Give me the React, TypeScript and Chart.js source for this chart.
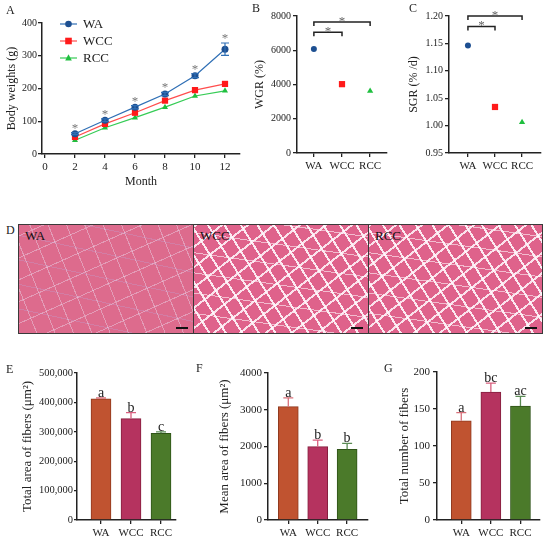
import React, { useEffect, useRef } from "react";
import { Chart, registerables } from "chart.js";

Chart.register(...registerables);

const FONT = "'Liberation Serif', 'Times New Roman', serif";
const INK = "#222";

// A - body weight by month
const months = [2, 4, 6, 8, 10, 12];
const monthTicks = [0, 2, 4, 6, 8, 10, 12];
const weightTicks = [0, 100, 200, 300, 400];
const waWeight = [62, 103, 143, 183, 239, 320];
const waWeightErr = [3, 4, 5, 5, 6, 19];
const wccWeight = [52, 92, 126, 163, 195, 214];
const rccWeight = [42, 80, 111, 143, 177, 193];

const groups = ["WA", "WCC", "RCC"];

// B / C - growth rates
const wgr = [6080, 4020, 3620];
const wgrTicks = [0, 2000, 4000, 6000, 8000];
const wgrBrackets: [number, number, number][] = [[0, 1, 7050], [0, 2, 7650]];
const sgr = [1.146, 1.034, 1.006];
const sgrTicks = [0.95, 1.0, 1.05, 1.1, 1.15, 1.2];
const sgrBrackets: [number, number, number][] = [[0, 1, 1.181], [0, 2, 1.2]];

// E / F / G - fibre measurements
const totalArea = [412000, 345000, 295000];
const totalAreaErr = [3000, 20000, 5000];
const totalAreaTicks = [0, 100000, 200000, 300000, 400000, 500000];
const totalAreaLetters = ["a", "b", "c"];
const meanArea = [3083, 1995, 1924];
const meanAreaErr = [240, 180, 160];
const meanAreaTicks = [0, 1000, 2000, 3000, 4000];
const meanAreaLetters = ["a", "b", "b"];
const fiberCount = [134, 173, 154];
const fiberCountErr = [11, 12, 13];
const fiberCountTicks = [0, 50, 100, 150, 200];
const fiberCountLetters = ["a", "bc", "ac"];

const lineColors = ["#2f6fb5", "#ff4d4d", "#35cc55"];
const markerColors = ["#1d4f91", "#ff1a1a", "#1fbf3f"];
const markerStyles = ["circle", "rect", "triangle"];
const barColors = ["#c05330", "#b5335f", "#4b7a2a"];
const barBorders = ["#8f3a1f", "#85203f", "#2f5418"];
const errColors = ["#d9707a", "#d9607f", "#5b8c55"];

const axisLine = (tickLength = 4) => ({
  grid: { display: true, drawOnChartArea: false, drawTicks: true, tickLength, color: INK, lineWidth: 1.3, offset: false },
  border: { display: true, color: INK, width: 1.5 },
});

type YOpts = { width: number; title: string; size: number; pad: number; tickSize: number; tickPad: number; tickLen?: number; fmt?: (v: number) => string };

const yAxis = (ticks: number[], o: YOpts) => ({
  type: "linear",
  min: ticks[0],
  max: ticks[ticks.length - 1],
  afterBuildTicks: (s: any) => {
    s.ticks = ticks.map((v) => ({ value: v }));
  },
  ticks: {
    font: { family: FONT, size: o.tickSize },
    color: INK,
    padding: o.tickPad,
    autoSkip: false,
    callback: (v: any) => (o.fmt ? o.fmt(v) : String(v)),
  },
  ...axisLine(o.tickLen ?? 4),
  title: { display: true, text: o.title, font: { family: FONT, size: o.size }, color: INK, padding: { top: o.pad, bottom: 0 } },
  afterFit: (s: any) => {
    s.width = o.width;
  },
});

const xGroups = (min: number, max: number, height: number) => ({
  type: "linear",
  min,
  max,
  offset: false,
  afterBuildTicks: (s: any) => {
    s.ticks = groups.map((_, i) => ({ value: i }));
  },
  ticks: {
    font: { family: FONT, size: 11 },
    color: INK,
    padding: 3,
    autoSkip: false,
    maxRotation: 0,
    callback: (v: any) => groups[v] ?? "",
  },
  ...axisLine(4),
  afterFit: (s: any) => {
    s.height = height;
  },
});

function marker(ctx: CanvasRenderingContext2D, style: string, x: number, y: number, r: number) {
  ctx.beginPath();
  if (style === "circle") ctx.arc(x, y, r, 0, Math.PI * 2);
  else if (style === "rect") ctx.rect(x - r, y - r, r * 2, r * 2);
  else {
    ctx.moveTo(x, y - r * 1.1);
    ctx.lineTo(x + r, y + r * 0.75);
    ctx.lineTo(x - r, y + r * 0.75);
    ctx.closePath();
  }
  ctx.fill();
}

const weightExtras = {
  id: "weightExtras",
  afterDatasetsDraw(chart: any) {
    const { ctx, scales } = chart;
    const { x, y } = scales;
    ctx.save();
    // error bars on WA
    ctx.strokeStyle = lineColors[0];
    ctx.lineWidth = 1.2;
    months.forEach((m, i) => {
      const px = x.getPixelForValue(m);
      const hi = y.getPixelForValue(waWeight[i] + waWeightErr[i]);
      const lo = y.getPixelForValue(waWeight[i] - waWeightErr[i]);
      ctx.beginPath();
      ctx.moveTo(px, hi);
      ctx.lineTo(px, lo);
      ctx.moveTo(px - 4, hi);
      ctx.lineTo(px + 4, hi);
      ctx.moveTo(px - 4, lo);
      ctx.lineTo(px + 4, lo);
      ctx.stroke();
    });
    // significance stars
    ctx.fillStyle = "#777";
    ctx.font = `13px ${FONT}`;
    ctx.textAlign = "center";
    ctx.textBaseline = "alphabetic";
    months.forEach((m, i) => {
      const px = x.getPixelForValue(m);
      const hi = y.getPixelForValue(waWeight[i] + waWeightErr[i]);
      ctx.fillText("*", px, hi - 1);
    });
    // legend
    const rows = [24, 41, 58];
    groups.forEach((g, i) => {
      const yy = rows[i];
      ctx.strokeStyle = lineColors[i];
      ctx.lineWidth = 1.2;
      ctx.beginPath();
      ctx.moveTo(60, yy);
      ctx.lineTo(77, yy);
      ctx.stroke();
      ctx.fillStyle = markerColors[i];
      marker(ctx, markerStyles[i], 68.5, yy, 3.3);
      ctx.fillStyle = INK;
      ctx.font = `13px ${FONT}`;
      ctx.textAlign = "left";
      ctx.textBaseline = "middle";
      ctx.fillText(g, 83, yy + 1);
    });
    ctx.restore();
  },
};

const bracketPlugin = (brackets: [number, number, number][]) => ({
  id: "brackets",
  afterDatasetsDraw(chart: any) {
    const { ctx, scales } = chart;
    const { x, y } = scales;
    ctx.save();
    brackets.forEach(([a, b, v]) => {
      const x1 = x.getPixelForValue(a);
      const x2 = x.getPixelForValue(b);
      const py = y.getPixelForValue(v);
      ctx.strokeStyle = INK;
      ctx.lineWidth = 1.5;
      ctx.beginPath();
      ctx.moveTo(x1, py + 4);
      ctx.lineTo(x1, py);
      ctx.lineTo(x2, py);
      ctx.lineTo(x2, py + 4);
      ctx.stroke();
      ctx.fillStyle = "#666";
      ctx.font = `13px ${FONT}`;
      ctx.textAlign = "center";
      ctx.textBaseline = "alphabetic";
      ctx.fillText("*", (x1 + x2) / 2, py + 3);
    });
    ctx.restore();
  },
});

const barExtras = (values: number[], errs: number[], letters: string[]) => ({
  id: "barExtras",
  afterDatasetsDraw(chart: any) {
    const { ctx, scales } = chart;
    const { x, y } = scales;
    ctx.save();
    values.forEach((v, i) => {
      const px = x.getPixelForValue(i);
      const top = y.getPixelForValue(v);
      const hi = y.getPixelForValue(v + errs[i]);
      ctx.strokeStyle = errColors[i];
      ctx.lineWidth = 1.3;
      ctx.beginPath();
      ctx.moveTo(px, top);
      ctx.lineTo(px, hi);
      ctx.moveTo(px - 5, hi);
      ctx.lineTo(px + 5, hi);
      ctx.stroke();
      ctx.fillStyle = INK;
      ctx.font = `14px ${FONT}`;
      ctx.textAlign = "center";
      ctx.textBaseline = "alphabetic";
      ctx.fillText(letters[i], px, hi - 1);
    });
    ctx.restore();
  },
});

const weightConfig = () => ({
  type: "line",
  data: {
    datasets: [waWeight, wccWeight, rccWeight].map((vals, i) => ({
      label: groups[i],
      data: vals.map((v, j) => ({ x: months[j], y: v })),
      borderColor: lineColors[i],
      borderWidth: 1.2,
      pointStyle: markerStyles[i],
      pointRadius: i === 1 ? 4.4 : 3.5,
      pointBackgroundColor: markerColors[i],
      pointBorderColor: markerColors[i],
      pointBorderWidth: 0,
      tension: 0,
    })),
  },
  options: {
    responsive: false,
    animation: false,
    layout: { padding: { top: 23, right: 5, left: 0, bottom: 0 } },
    plugins: { legend: { display: false }, tooltip: { enabled: false } },
    scales: {
      x: {
        type: "linear",
        min: -0.2,
        max: 13,
        afterBuildTicks: (s: any) => {
          s.ticks = monthTicks.map((v) => ({ value: v }));
        },
        ticks: { font: { family: FONT, size: 11 }, color: INK, padding: 3, maxRotation: 0 },
        ...axisLine(4),
        title: { display: true, text: "Month", font: { family: FONT, size: 12 }, color: INK, padding: { top: 0, bottom: 11 } },
        afterFit: (s: any) => {
          s.height = 46;
        },
      },
      y: yAxis(weightTicks, { width: 42, title: "Body weights (g)", size: 12, pad: 5, tickSize: 10, tickPad: 1 }),
    },
  },
  plugins: [weightExtras],
});

const scatterConfig = (
  values: number[],
  ticks: number[],
  yOpts: YOpts,
  xmin: number,
  xmax: number,
  right: number,
  brackets: [number, number, number][]
) => ({
  type: "scatter",
  data: {
    datasets: [
      {
        data: values.map((v, i) => ({ x: i, y: v })),
        pointStyle: markerStyles,
        pointRadius: [3, 4.4, 3.6],
        pointBackgroundColor: markerColors,
        pointBorderColor: markerColors,
        pointBorderWidth: 0,
      },
    ],
  },
  options: {
    responsive: false,
    animation: false,
    layout: { padding: { top: 16, right, left: 0, bottom: 0 } },
    plugins: { legend: { display: false }, tooltip: { enabled: false } },
    scales: {
      x: xGroups(xmin, xmax, 47),
      y: yAxis(ticks, yOpts),
    },
  },
  plugins: [bracketPlugin(brackets)],
});

const barConfig = (
  values: number[],
  errs: number[],
  letters: string[],
  ticks: number[],
  yOpts: YOpts,
  xmin: number,
  xmax: number,
  top: number,
  right: number
) => ({
  type: "bar",
  data: {
    datasets: [
      {
        data: values.map((v, i) => ({ x: i, y: v })),
        backgroundColor: barColors,
        borderColor: barBorders,
        borderWidth: 1,
        barThickness: 20,
      },
    ],
  },
  options: {
    responsive: false,
    animation: false,
    layout: { padding: { top, right, left: 0, bottom: 0 } },
    plugins: { legend: { display: false }, tooltip: { enabled: false } },
    scales: {
      x: xGroups(xmin, xmax, 21),
      y: yAxis(ticks, yOpts),
    },
  },
  plugins: [barExtras(values, errs, letters)],
});

function ChartPanel({ left, top, width, height, build }: { left: number; top: number; width: number; height: number; build: () => any }) {
  const ref = useRef<HTMLCanvasElement | null>(null);
  useEffect(() => {
    if (!ref.current) return;
    const chart = new Chart(ref.current, build());
    return () => chart.destroy();
  }, []);
  return <canvas ref={ref} width={width} height={height} style={{ position: "absolute", left, top, width, height }} />;
}

const letterStyle = (left: number, top: number): React.CSSProperties => ({
  position: "absolute",
  left,
  top,
  fontFamily: FONT,
  fontSize: 12,
  color: INK,
  lineHeight: "12px",
});

const denseTissue =
  "repeating-linear-gradient(68deg, transparent 0 16px, rgba(235,215,235,0.45) 16px 17px), repeating-linear-gradient(-24deg, transparent 0 19px, rgba(235,215,235,0.45) 19px 20px), repeating-linear-gradient(12deg, transparent 0 23px, rgba(190,160,210,0.35) 23px 24px), #dd6b8d";
const looseTissue =
  "repeating-linear-gradient(58deg, transparent 0 12px, rgba(255,248,252,0.9) 12px 14px), repeating-linear-gradient(-38deg, transparent 0 14px, rgba(255,248,252,0.85) 14px 16px), repeating-linear-gradient(8deg, transparent 0 19px, rgba(255,248,252,0.6) 19px 20px), #df628b";

function Tissue({ left, width, label, bg }: { left: number; width: number; label: string; bg: string }) {
  return (
    <div
      style={{
        position: "absolute",
        left,
        top: 224,
        width,
        height: 110,
        boxSizing: "border-box",
        border: "1px solid #3a3a3a",
        background: bg,
      }}
    >
      <div style={{ position: "absolute", left: 6, top: 3, fontFamily: FONT, fontSize: 13, color: "#111" }}>{label}</div>
      <div style={{ position: "absolute", right: 5, bottom: 4, width: 12, height: 2, background: "#111" }} />
    </div>
  );
}

export default function App() {
  const thousands = (v: number) => v.toLocaleString("en-US");
  return (
    <div style={{ position: "absolute", left: 0, top: 0, width: 550, height: 541, background: "#fff", overflow: "hidden" }}>
      <ChartPanel left={0} top={0} width={245} height={200} build={weightConfig} />
      <ChartPanel
        left={245}
        top={0}
        width={150}
        height={200}
        build={() =>
          scatterConfig(wgr, wgrTicks, { width: 52, title: "WGR (%)", size: 12, pad: 8, tickSize: 10, tickPad: 2 }, -0.6, 2.6, 8, wgrBrackets)
        }
      />
      <ChartPanel
        left={395}
        top={0}
        width={155}
        height={200}
        build={() =>
          scatterConfig(
            sgr,
            sgrTicks,
            { width: 54, title: "SGR (% /d)", size: 12, pad: 12, tickSize: 10, tickPad: 2, fmt: (v) => v.toFixed(2) },
            -0.7,
            2.7,
            9,
            sgrBrackets
          )
        }
      />
      <ChartPanel
        left={0}
        top={360}
        width={185}
        height={181}
        build={() =>
          barConfig(
            totalArea,
            totalAreaErr,
            totalAreaLetters,
            totalAreaTicks,
            { width: 77, title: "Total area of fibers (μm²)", size: 13, pad: 20, tickSize: 10.5, tickPad: 1, tickLen: 3, fmt: thousands },
            -0.8,
            2.5,
            13,
            9
          )
        }
      />
      <ChartPanel
        left={185}
        top={360}
        width={190}
        height={181}
        build={() =>
          barConfig(
            meanArea,
            meanAreaErr,
            meanAreaLetters,
            meanAreaTicks,
            { width: 83, title: "Mean area of fibers (μm²)", size: 13, pad: 32, tickSize: 11, tickPad: 2 },
            -0.69,
            2.71,
            13,
            7
          )
        }
      />
      <ChartPanel
        left={375}
        top={360}
        width={175}
        height={181}
        build={() =>
          barConfig(
            fiberCount,
            fiberCountErr,
            fiberCountLetters,
            fiberCountTicks,
            { width: 62, title: "Total number of fibers", size: 13, pad: 22, tickSize: 11, tickPad: 3 },
            -0.82,
            2.66,
            12,
            10
          )
        }
      />

      <Tissue left={18} width={176} label="WA" bg={denseTissue} />
      <Tissue left={193} width={176} label="WCC" bg={looseTissue} />
      <Tissue left={368} width={175} label="RCC" bg={looseTissue} />

      <div style={letterStyle(6, 4)}>A</div>
      <div style={letterStyle(252, 2)}>B</div>
      <div style={letterStyle(409, 2)}>C</div>
      <div style={letterStyle(6, 224)}>D</div>
      <div style={letterStyle(6, 363)}>E</div>
      <div style={letterStyle(196, 362)}>F</div>
      <div style={letterStyle(384, 362)}>G</div>
    </div>
  );
}
